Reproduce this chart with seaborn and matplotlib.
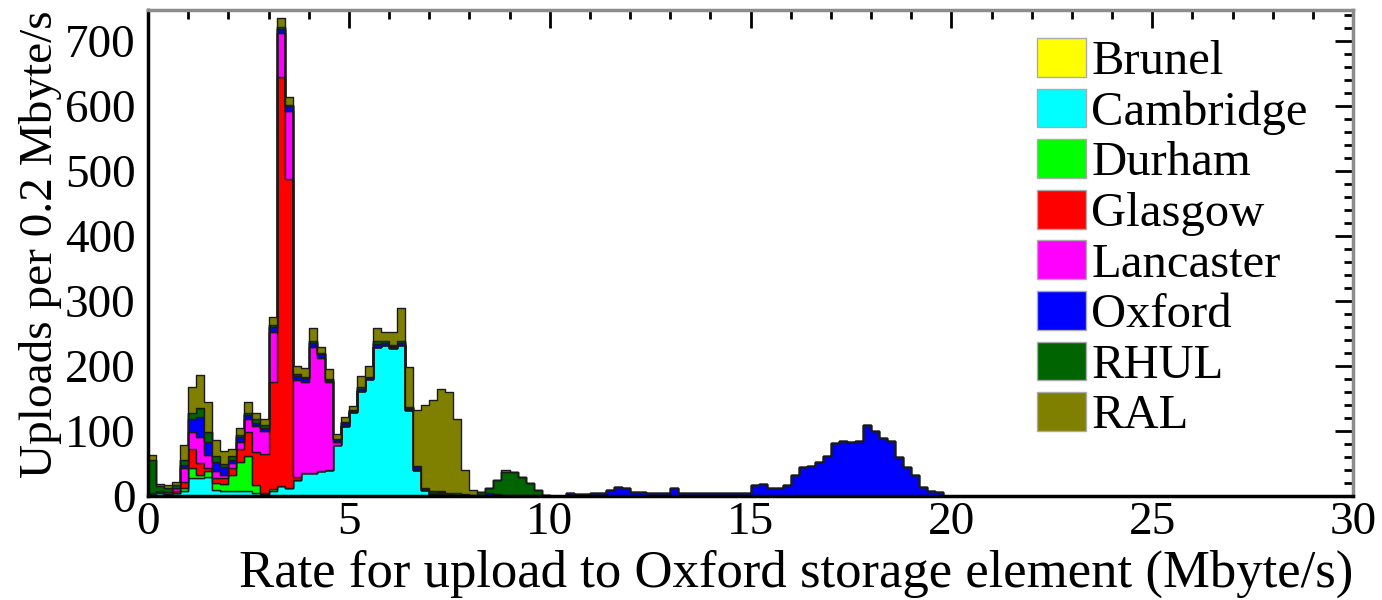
import numpy as np
import pandas as pd
import matplotlib
matplotlib.use("Agg")
import matplotlib.pyplot as plt
import seaborn as sns
from matplotlib.patches import Patch
from matplotlib.ticker import MultipleLocator

# ---------------- data (uploads per 0.2 Mbyte/s bin, bins 0.0-20.0) ----------------
sites = ["Brunel", "Cambridge", "Durham", "Glasgow", "Lancaster", "Oxford", "RHUL", "RAL"]
site_colors = ["#ffff00", "#00ffff", "#00ff00", "#ff0000", "#ff00ff", "#0000ff", "#006400", "#808000"]

bin_width = 0.2
n_bins = 100
bin_edges = [round(i * bin_width, 2) for i in range(n_bins + 1)]
rate_centers = [round(e + bin_width / 2, 2) for e in bin_edges[:-1]]

brunel = [0] * n_bins

cambridge = [5, 5, 3, 5, 8, 28, 28, 30, 10, 8,
             8, 8, 7, 5, 3, 8, 15, 13, 25, 35,
             35, 38, 40, 78, 108, 130, 162, 180, 230, 232,
             228, 232, 132, 40, 10, 3, 3, 0, 0, 0,
             0, 0, 0, 0, 0, 0, 0, 0, 0, 0,
             0, 0, 0, 0, 0, 0, 0, 0, 0, 0,
             0, 0, 0, 0, 0, 0, 0, 0, 0, 0,
             0, 0, 0, 0, 0, 0, 0, 0, 0, 0,
             0, 0, 0, 0, 0, 0, 0, 0, 0, 0,
             0, 0, 0, 0, 0, 0, 0, 0, 0, 0]

durham = [0, 3, 0, 0, 5, 15, 5, 8, 10, 10,
          25, 45, 55, 12, 2, 3, 0, 0, 0, 0,
          0, 0, 0, 0, 0, 0, 0, 0, 0, 0,
          0, 0, 0, 0, 0, 0, 0, 0, 0, 0,
          0, 0, 0, 0, 0, 0, 0, 0, 0, 0,
          0, 0, 0, 0, 0, 0, 0, 0, 0, 0,
          0, 0, 0, 0, 0, 0, 0, 0, 0, 0,
          0, 0, 0, 0, 0, 0, 0, 0, 0, 0,
          0, 0, 0, 0, 0, 0, 0, 0, 0, 0,
          0, 0, 0, 0, 0, 0, 0, 0, 0, 0]

glasgow = [0, 0, 0, 3, 8, 30, 18, 5, 8, 10,
           10, 20, 36, 50, 60, 165, 630, 475, 5, 0,
           0, 0, 0, 0, 0, 0, 0, 0, 0, 0,
           0, 0, 0, 0, 0, 0, 0, 0, 0, 0,
           0, 0, 0, 0, 0, 0, 0, 0, 0, 0,
           0, 0, 0, 0, 0, 0, 0, 0, 0, 0,
           0, 0, 0, 0, 0, 0, 0, 0, 0, 0,
           0, 0, 0, 0, 0, 0, 0, 0, 0, 0,
           0, 0, 0, 0, 0, 0, 0, 0, 0, 0,
           0, 0, 0, 0, 0, 0, 0, 0, 0, 0]

lancaster = [0, 0, 3, 5, 22, 25, 40, 20, 10, 5,
             8, 10, 20, 40, 35, 77, 67, 105, 148, 140,
             195, 175, 135, 5, 0, 0, 0, 0, 0, 0,
             0, 0, 0, 0, 0, 0, 0, 0, 0, 0,
             0, 0, 0, 0, 0, 0, 0, 0, 0, 0,
             0, 0, 0, 0, 0, 0, 0, 0, 0, 0,
             0, 0, 0, 0, 0, 0, 0, 0, 0, 0,
             0, 0, 0, 0, 0, 0, 0, 0, 0, 0,
             0, 0, 0, 0, 0, 0, 0, 0, 0, 0,
             0, 0, 0, 0, 0, 0, 0, 0, 0, 0]

oxford = [0, 0, 0, 0, 5, 20, 30, 20, 15, 12,
          5, 8, 6, 5, 5, 7, 7, 7, 7, 6,
          6, 5, 3, 4, 4, 3, 3, 3, 4, 4,
          3, 3, 3, 4, 3, 2, 3, 3, 2, 0,
          0, 1, 4, 3, 2, 1, 2, 2, 2, 0,
          0, 0, 4, 3, 3, 5, 5, 10, 14, 12,
          6, 6, 5, 5, 5, 12, 5, 5, 5, 5,
          5, 5, 5, 5, 5, 17, 18, 13, 13, 17,
          33, 44, 46, 52, 62, 82, 84, 83, 85, 110,
          100, 90, 85, 60, 45, 33, 14, 8, 6, 0]

rhul = [50, 8, 6, 4, 8, 10, 15, 15, 8, 5,
        5, 3, 3, 6, 4, 3, 3, 2, 3, 2,
        3, 2, 2, 0, 2, 0, 2, 0, 4, 2,
        2, 3, 2, 2, 0, 2, 2, 2, 2, 3,
        2, 5, 9, 22, 35, 36, 28, 18, 8, 2,
        0, 0, 0, 0, 0, 0, 0, 0, 0, 0,
        0, 0, 0, 0, 0, 0, 0, 0, 0, 0,
        0, 0, 0, 0, 0, 0, 0, 0, 0, 0,
        0, 0, 0, 0, 0, 0, 0, 0, 0, 0,
        0, 0, 0, 0, 0, 0, 0, 0, 0, 0]

ral = [8, 2, 5, 5, 22, 40, 50, 47, 25, 20,
       12, 10, 18, 10, 9, 12, 13, 12, 12, 14,
       19, 10, 15, 8, 8, 5, 18, 17, 20, 15,
       20, 52, 61, 86, 127, 140, 157, 155, 115, 37,
       8, 0, 0, 0, 3, 0, 0, 0, 0, 0,
       0, 0, 0, 0, 0, 0, 0, 0, 0, 0,
       0, 0, 0, 0, 0, 0, 0, 0, 0, 0,
       0, 0, 0, 0, 0, 0, 0, 0, 0, 0,
       0, 0, 0, 0, 0, 0, 0, 0, 0, 0,
       0, 0, 0, 0, 0, 0, 0, 0, 0, 0]

x_ticks = [0, 5, 10, 15, 20, 25, 30]
y_ticks = [0, 100, 200, 300, 400, 500, 600, 700]
x_label = "Rate for upload to Oxford storage element (Mbyte/s)"
y_label = "Uploads per 0.2 Mbyte/s"

series = dict(zip(sites, [brunel, cambridge, durham, glasgow, lancaster, oxford, rhul, ral]))
df = pd.concat(
    [pd.DataFrame({"rate": rate_centers, "count": vals, "site": name}) for name, vals in series.items()],
    ignore_index=True,
)

# ---------------- style ----------------
sns.set_theme(style="white")
plt.rcParams["font.family"] = ["Liberation Serif", "DejaVu Serif"]
plt.rcParams["text.color"] = "black"
plt.rcParams["axes.labelcolor"] = "black"
plt.rcParams["xtick.color"] = "black"
plt.rcParams["ytick.color"] = "black"
FS = 34

fig = plt.figure(figsize=(13.82, 6.0), dpi=100)
W, H = 1382, 600
ax = fig.add_axes([148 / W, 1 - 496 / H, (1353 - 148) / W, (496 - 10) / H])

palette = dict(zip(sites, site_colors))
sns.histplot(
    data=df, x="rate", weights="count", hue="site",
    hue_order=sites[::-1], palette=palette,
    multiple="stack", element="step", fill=True, bins=bin_edges,
    alpha=1, edgecolor="#1a1a1a", linewidth=1.0, legend=False, ax=ax,
)

ax.set_xlim(0, 30)
ax.set_ylim(0, 748)
ax.set_xticks(x_ticks)
ax.set_yticks(y_ticks)
ax.xaxis.set_minor_locator(MultipleLocator(1))
ax.yaxis.set_minor_locator(MultipleLocator(20))
ax.tick_params(axis="both", which="both", direction="in", top=True, right=True,
               labelsize=FS, color="black", labelcolor="black")
ax.tick_params(axis="both", which="major", length=13, width=2.0)
ax.tick_params(axis="both", which="minor", length=6.5, width=2.0)
ax.tick_params(axis="x", which="major", pad=4)
ax.tick_params(axis="y", which="major", pad=9)

for side in ["left", "bottom"]:
    ax.spines[side].set_color("black")
    ax.spines[side].set_linewidth(2.5)
for side in ["top", "right"]:
    ax.spines[side].set_color("#8c8c8c")
    ax.spines[side].set_linewidth(2.5)

for t in ax.xaxis.get_major_ticks() + ax.xaxis.get_minor_ticks():
    t.tick2line.set_color("#aaaaaa")
for t in ax.yaxis.get_major_ticks() + ax.yaxis.get_minor_ticks():
    t.tick2line.set_color("#bbbbbb")

ax.set_xlabel(x_label, fontsize=38, loc="right", labelpad=4)
ax.set_ylabel(y_label, fontsize=34, loc="top", labelpad=2)

handles = [Patch(facecolor=c, edgecolor="#aaaaaa", linewidth=1.0) for c in site_colors]
fig.legend(
    handles, sites, loc="upper left",
    bbox_to_anchor=(1037 / W, 1 - 38 / H), bbox_transform=fig.transFigure,
    frameon=False, fontsize=35, handlelength=1.0, handleheight=0.85,
    handletextpad=0.12, labelspacing=0.09, borderpad=0, borderaxespad=0,
)

fig.savefig("out.png", dpi=100, facecolor="white")
